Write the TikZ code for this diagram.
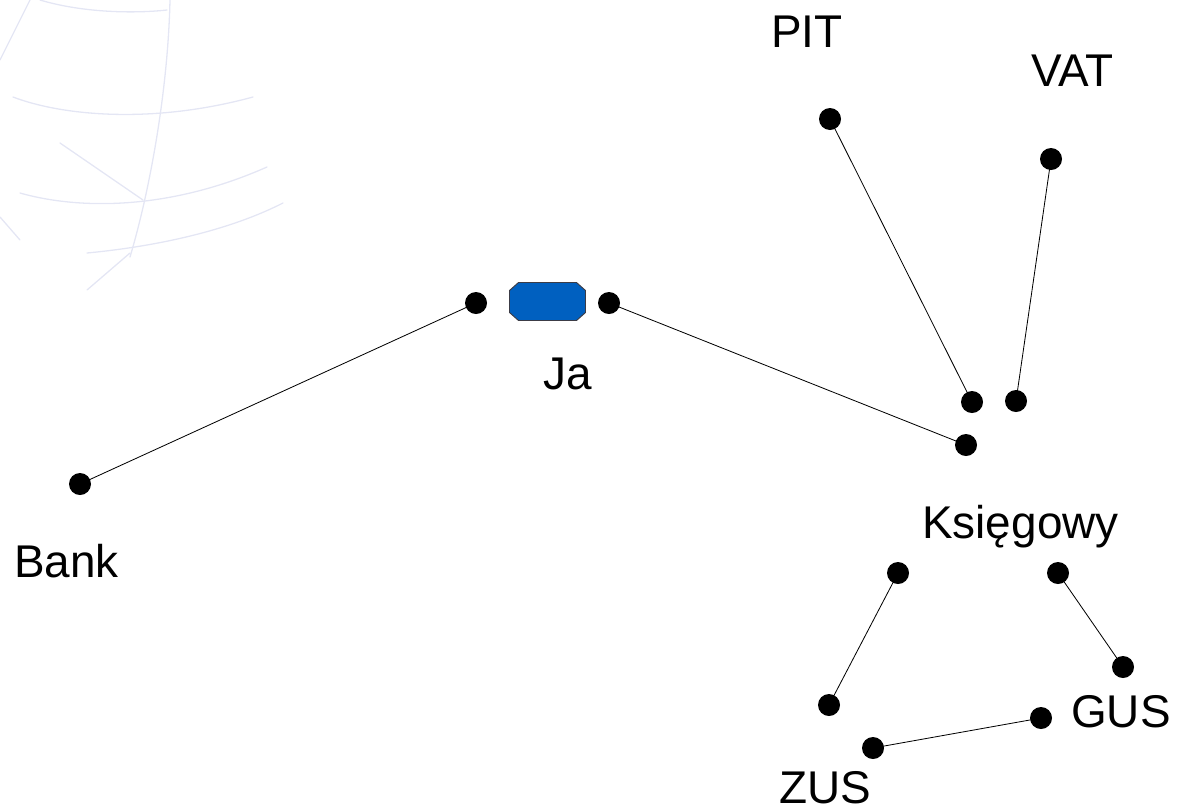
\documentclass[tikz,border=0pt]{standalone}
\usepackage{fontspec}
\setmainfont{Liberation Sans}
\definecolor{globec}{RGB}{228,230,244}
\definecolor{jablue}{RGB}{0,96,192}
\definecolor{jaedge}{RGB}{60,60,70}
\begin{document}
\begin{tikzpicture}[x=0.85pt,y=-0.85pt,
  dot/.style={circle,fill=black,draw=none,inner sep=0pt,minimum size=18.7pt},
  lbl/.style={anchor=base west,inner sep=0pt,font=\fontsize{39}{45}\selectfont},
  conn/.style={draw=black,line width=0.7pt},
  globe/.style={draw=globec,line width=1.1pt,line cap=round}]
\useasboundingbox (0,0) rectangle (1179,809);
% faint background globe
\draw[globe] (13,97) .. controls (60,115) and (150,125) .. (253,97);
\draw[globe] (170,0) .. controls (168,90) and (150,190) .. (130,257);
\draw[globe] (20,193) .. controls (80,210) and (170,210) .. (267,167);
\draw[globe] (87,253) .. controls (140,248) and (220,235) .. (283,203);
\draw[globe] (60,143) -- (143,200);
\draw[globe] (0,60) -- (30,0);
\draw[globe] (40,0) .. controls (80,12) and (130,14) .. (167,10);
\draw[globe] (0,217) -- (20,240);
\draw[globe] (87,290) -- (130,253);
% blue octagon (Ja)
\coordinate (jaC) at (547.5,301.5);
\draw[fill=jablue,draw=jaedge,line width=0.8pt]
  (518.5,282.5) -- (576.5,282.5) -- (585.5,290.5) -- (585.5,312.5) -- (576.5,320.5)
  -- (518.5,320.5) -- (509.5,312.5) -- (509.5,290.5) -- cycle;
% dots
\node[dot] (bank) at (80,484) {};
\node[dot] (jal) at (476,303) {};
\node[dot] (jar) at (609,303) {};
\node[dot] (pit) at (830,119) {};
\node[dot] (vat) at (1051,159) {};
\node[dot] (k1) at (972,402) {};
\node[dot] (k2) at (1016,401) {};
\node[dot] (k3) at (966,445) {};
\node[dot] (a1) at (898,573) {};
\node[dot] (b1) at (1058,573) {};
\node[dot] (b2) at (1123,667) {};
\node[dot] (a2) at (829,705) {};
\node[dot] (gus) at (1041,718) {};
\node[dot] (zus) at (873,748) {};
% connectors
\draw[conn] (bank.center) -- (jal.center);
\draw[conn] (jar.center) -- (k3.center);
\draw[conn] (pit.center) -- (k1.center);
\draw[conn] (vat.center) -- (k2.center);
\draw[conn] (a1.center) -- (a2.center);
\draw[conn] (b1.center) -- (b2.center);
\draw[conn] (zus.center) -- (gus.center);
% labels
\node[lbl] (tpit) at (771,47) {PIT};
\node[lbl] (tvat) at (1031,86) {VAT};
\node[lbl] (tja) at (543,389) {Ja};
\node[lbl] (tks) at (922,538) {Księgowy};
\node[lbl] (tbank) at (14,577) {Bank};
\node[lbl] (tgus) at (1071,727) {GUS};
\node[lbl] (tzus) at (779,803) {ZUS};
\end{tikzpicture}
\end{document}
